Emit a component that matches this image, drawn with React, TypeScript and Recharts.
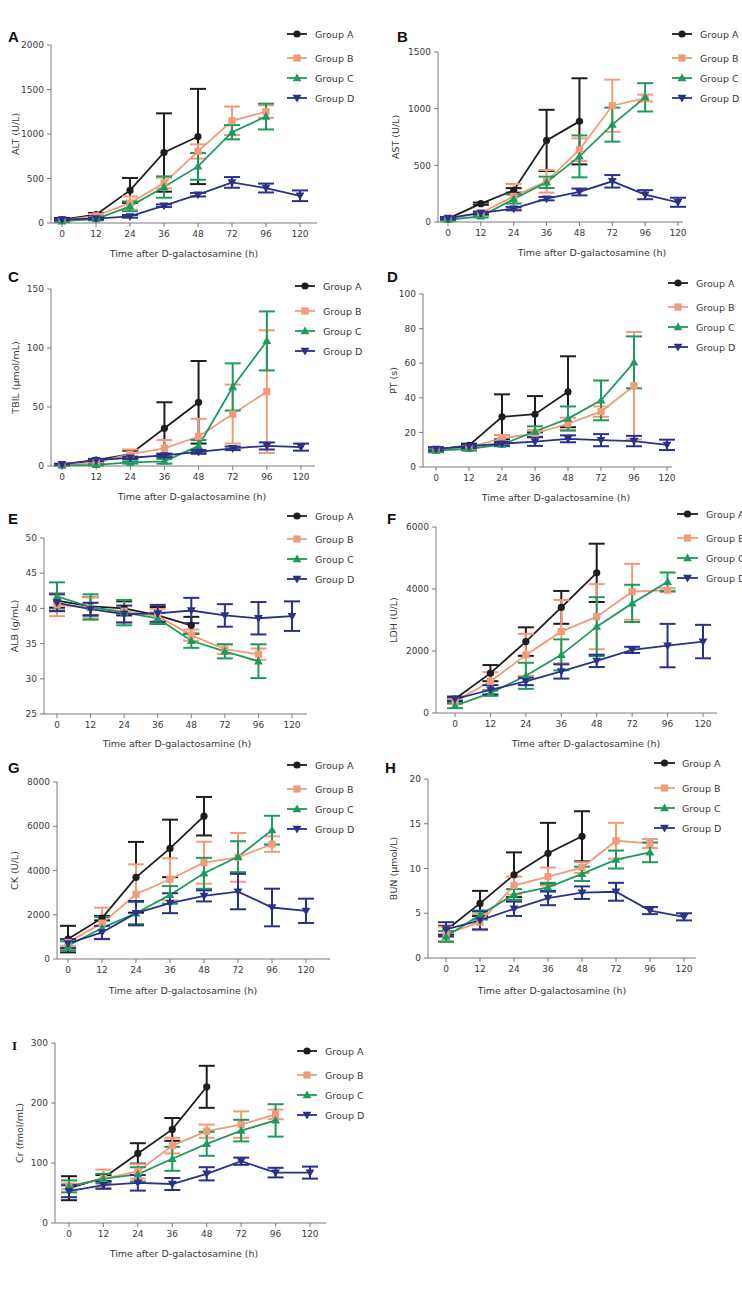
import React from 'react';
import { LineChart, Line, XAxis, YAxis, ErrorBar } from 'recharts';

const TIME_LABELS = ['0', '12', '24', '36', '48', '72', '96', '120'];
const GROUP_NAMES = ['Group A', 'Group B', 'Group C', 'Group D'];
const GROUP_COLORS = ['#1e1e1e', '#f29a7c', '#1e9a5c', '#2a3188'];
const GROUP_SHAPES = ['circle', 'square', 'up', 'down'];

// ALT (U/L)
const altA = [37, 93, 366, 792, 972];
const altAErr = [20, 20, 140, 440, 535];
const altB = [30, 80, 224, 449, 804, 1148, 1252];
const altBErr = [15, 20, 75, 60, 80, 160, 70];
const altC = [20, 45, 187, 404, 636, 1020, 1196];
const altCErr = [10, 15, 55, 120, 150, 80, 145];
const altD = [40, 50, 75, 194, 318, 456, 393, 306];
const altDErr = [10, 10, 15, 15, 20, 60, 50, 60];

// AST (U/L)
const astA = [30, 162, 279, 720, 888];
const astAErr = [10, 10, 20, 270, 380];
const astB = [30, 79, 226, 359, 638, 1026, 1094];
const astBErr = [10, 15, 110, 100, 100, 230, 30];
const astC = [20, 50, 203, 350, 579, 859, 1100];
const astCErr = [10, 10, 40, 50, 185, 150, 125];
const astD = [35, 80, 118, 206, 265, 359, 241, 174];
const astDErr = [10, 10, 15, 15, 30, 55, 40, 40];

// TBIL (umol/mL)
const tbilA = [1, 5, 10, 32, 54];
const tbilAErr = [0.5, 1, 3, 22, 35];
const tbilB = [1, 3, 10, 15, 25, 44, 63];
const tbilBErr = [0.5, 1, 4, 7, 15, 25, 52];
const tbilC = [0.5, 1, 3, 4, 17, 67, 106];
const tbilCErr = [0.3, 0.5, 1, 2, 5, 20, 25];
const tbilD = [1.5, 5, 7, 9, 12, 15, 17, 16];
const tbilDErr = [0.5, 1, 1, 1.5, 1.5, 1.5, 3, 3];

// PT (s)
const ptA = [10, 12.5, 29, 30.5, 43.5];
const ptAErr = [1, 1, 13, 10.5, 20.5];
const ptB = [10, 11.5, 16.5, 19.5, 25, 32, 47];
const ptBErr = [1, 1, 2, 2, 3.5, 3, 31];
const ptC = [9.5, 10.5, 13, 20.5, 28, 38.5, 60.5];
const ptCErr = [1, 1, 1, 3, 7, 11.5, 15];
const ptD = [10.5, 12, 13.5, 14.7, 16.3, 15.5, 15, 12.8];
const ptDErr = [1, 1, 1, 2.5, 2, 3.5, 3, 3];

// ALB (g/mL)
const albA = [41.1, 40.3, 40.0, 39.0, 37.6];
const albAErr = [1, 1.3, 1, 1.2, 1.2];
const albB = [40.5, 40.1, 39.6, 38.9, 36.2, 34.2, 33.5];
const albBErr = [1.6, 1.5, 1.6, 1, 0.8, 0.7, 0.8];
const albC = [41.7, 40.2, 39.4, 38.6, 35.4, 33.9, 32.5];
const albCErr = [2, 1.8, 1.8, 0.8, 1, 1, 2.4];
const albD = [40.8, 39.9, 39.2, 39.3, 39.7, 39.0, 38.6, 38.9];
const albDErr = [1.2, 0.9, 1.2, 1.2, 1.8, 1.6, 2.3, 2.1];

// LDH (U/L)
const ldhA = [450, 1286, 2304, 3407, 4521];
const ldhAErr = [80, 260, 460, 530, 940];
const ldhB = [375, 1018, 1875, 2625, 3107, 3911, 3964];
const ldhBErr = [80, 300, 680, 1020, 1050, 900, 60];
const ldhC = [236, 643, 1200, 1875, 2786, 3536, 4232];
const ldhCErr = [80, 90, 420, 500, 950, 600, 300];
const ldhD = [450, 750, 1018, 1340, 1682, 2036, 2175, 2304];
const ldhDErr = [60, 150, 120, 230, 200, 100, 700, 540];

// CK (U/L)
const ckA = [900, 1846, 3692, 4998, 6454];
const ckAErr = [600, 100, 1600, 1300, 870];
const ckB = [750, 1621, 2927, 3602, 4353, 4593, 5194];
const ckBErr = [150, 700, 1350, 950, 950, 1100, 350];
const ckC = [600, 1400, 2071, 2897, 3873, 4623, 5824];
const ckCErr = [200, 500, 500, 400, 700, 700, 650];
const ckD = [700, 1200, 2071, 2522, 2852, 3047, 2327, 2176];
const ckDErr = [200, 300, 550, 450, 250, 800, 850, 550];

// BUN (umol/L)
const bunA = [3.1, 6.1, 9.3, 11.7, 13.6];
const bunAErr = [0.5, 1.4, 2.5, 3.4, 2.8];
const bunB = [2.7, 4.0, 8.1, 9.1, 10.1, 13.1, 12.8];
const bunBErr = [0.8, 0.9, 1, 1, 0.6, 2, 0.5];
const bunC = [2.4, 4.8, 7.1, 7.9, 9.4, 11.0, 11.8];
const bunCErr = [0.6, 0.5, 0.6, 0.5, 0.8, 1.0, 1.1];
const bunD = [3.2, 4.2, 5.5, 6.7, 7.3, 7.4, 5.3, 4.6];
const bunDErr = [0.8, 1, 0.8, 0.8, 0.7, 1.0, 0.4, 0.4];

// Cr (fmol/mL)
const crA = [58, 75, 116, 156, 227];
const crAErr = [20, 5, 17, 19, 35];
const crB = [61, 74, 86, 129, 153, 164, 181];
const crBErr = [5, 15, 12, 13, 11, 22, 8];
const crC = [61, 74, 81, 107, 132, 154, 171];
const crCErr = [10, 8, 12, 20, 20, 18, 27];
const crD = [53, 63, 67, 65, 82, 103, 84, 84];
const crDErr = [10, 6, 13, 10, 11, 6, 8, 10];

type Panel = {
  letter: string;
  yLabel: string;
  series: number[][][];
  yDomain: [number, number];
  yTicks: number[];
  box: [number, number, number, number];
  plot: [number, number, number, number];
  t0: number;
  t120: number;
  letterPos: [number, number];
  yLabelX: number;
  title: [number, number];
  legend: { x0: number; x1: number; tx: number; rows: number[] };
};

const PANELS: Panel[] = [
  {
    letter: 'A', yLabel: 'ALT (U/L)',
    series: [[altA, altAErr], [altB, altBErr], [altC, altCErr], [altD, altDErr]],
    yDomain: [0, 2000], yTicks: [0, 500, 1000, 1500, 2000],
    box: [0, 0, 371, 265], plot: [51, 317, 45, 223], t0: 62, t120: 300,
    letterPos: [8, 42], yLabelX: 15, title: [184, 253],
    legend: { x0: 287, x1: 307, tx: 315, rows: [34, 58, 78, 98] },
  },
  {
    letter: 'B', yLabel: 'AST (U/L)',
    series: [[astA, astAErr], [astB, astBErr], [astC, astCErr], [astD, astDErr]],
    yDomain: [0, 1500], yTicks: [0, 500, 1000, 1500],
    box: [371, 0, 371, 265], plot: [438, 683, 52, 222], t0: 448, t120: 678,
    letterPos: [397, 42], yLabelX: 395, title: [592, 252],
    legend: { x0: 672, x1: 692, tx: 700, rows: [34, 58, 78, 98] },
  },
  {
    letter: 'C', yLabel: 'TBIL (\u03bcmol/mL)',
    series: [[tbilA, tbilAErr], [tbilB, tbilBErr], [tbilC, tbilCErr], [tbilD, tbilDErr]],
    yDomain: [0, 150], yTicks: [0, 50, 100, 150],
    box: [0, 265, 371, 240], plot: [51, 315, 289, 466], t0: 62, t120: 301,
    letterPos: [8, 282], yLabelX: 15, title: [192, 496],
    legend: { x0: 295, x1: 315, tx: 323, rows: [286, 311, 331, 351] },
  },
  {
    letter: 'D', yLabel: 'PT (s)',
    series: [[ptA, ptAErr], [ptB, ptBErr], [ptC, ptCErr], [ptD, ptDErr]],
    yDomain: [0, 100], yTicks: [0, 20, 40, 60, 80, 100],
    box: [371, 265, 371, 240], plot: [423, 672, 294, 467], t0: 436, t120: 667,
    letterPos: [387, 282], yLabelX: 393, title: [556, 497],
    legend: { x0: 668, x1: 688, tx: 696, rows: [283, 307, 327, 347] },
  },
  {
    letter: 'E', yLabel: 'ALB (g/mL)',
    series: [[albA, albAErr], [albB, albBErr], [albC, albCErr], [albD, albDErr]],
    yDomain: [25, 50], yTicks: [25, 30, 35, 40, 45, 50],
    box: [0, 505, 371, 240], plot: [44, 307, 538, 714], t0: 57, t120: 292,
    letterPos: [8, 524], yLabelX: 14, title: [177, 743],
    legend: { x0: 287, x1: 307, tx: 315, rows: [516, 539, 559, 579] },
  },
  {
    letter: 'F', yLabel: 'LDH (U/L)',
    series: [[ldhA, ldhAErr], [ldhB, ldhBErr], [ldhC, ldhCErr], [ldhD, ldhDErr]],
    yDomain: [0, 6000], yTicks: [0, 2000, 4000, 6000],
    box: [371, 505, 371, 240], plot: [436, 717, 527, 713], t0: 455, t120: 703,
    letterPos: [387, 524], yLabelX: 393, title: [586, 743],
    legend: { x0: 677, x1: 698, tx: 706, rows: [514, 538, 558, 578] },
  },
  {
    letter: 'G', yLabel: 'CK (U/L)',
    series: [[ckA, ckAErr], [ckB, ckBErr], [ckC, ckCErr], [ckD, ckDErr]],
    yDomain: [0, 8000], yTicks: [0, 2000, 4000, 6000, 8000],
    box: [0, 745, 371, 255], plot: [57, 330, 782, 959], t0: 68, t120: 306,
    letterPos: [8, 773], yLabelX: 14, title: [183, 990],
    legend: { x0: 287, x1: 307, tx: 315, rows: [765, 789, 809, 829] },
  },
  {
    letter: 'H', yLabel: 'BUN (\u03bcmol/L)',
    series: [[bunA, bunAErr], [bunB, bunBErr], [bunC, bunCErr], [bunD, bunDErr]],
    yDomain: [0, 20], yTicks: [0, 5, 10, 15, 20],
    box: [371, 745, 371, 255], plot: [428, 696, 779, 958], t0: 446, t120: 684,
    letterPos: [385, 773], yLabelX: 393, title: [552, 990],
    legend: { x0: 654, x1: 675, tx: 682, rows: [763, 788, 808, 828] },
  },
  {
    letter: 'I', yLabel: 'Cr (fmol/mL)',
    series: [[crA, crAErr], [crB, crBErr], [crC, crCErr], [crD, crDErr]],
    yDomain: [0, 300], yTicks: [0, 100, 200, 300],
    box: [0, 1000, 371, 270], plot: [55, 326, 1043, 1223], t0: 69, t120: 310,
    letterPos: [12, 1050], yLabelX: 19, title: [184, 1253],
    legend: { x0: 297, x1: 317, tx: 325, rows: [1051, 1075, 1095, 1115] },
  },
];

const FONT = '"DejaVu Sans", Verdana, sans-serif';
const AXIS_COLOR = '#7a7a7a';
const TEXT_COLOR = '#3a3a3a';
const YW = 40;
const XH = 25;

function Marker({ shape, cx, cy, color }: { shape: string; cx: number; cy: number; color: string }) {
  if (cx == null || cy == null || isNaN(cx) || isNaN(cy)) return null;
  if (shape === 'circle') return <circle cx={cx} cy={cy} r={3.6} fill={color} stroke="none" />;
  if (shape === 'square') return <rect x={cx - 3.6} y={cy - 3.6} width={7.2} height={7.2} fill={color} stroke="none" />;
  if (shape === 'up')
    return <polygon points={`${cx},${cy - 4.6} ${cx + 4.4},${cy + 3.2} ${cx - 4.4},${cy + 3.2}`} fill={color} stroke="none" />;
  return <polygon points={`${cx},${cy + 4.6} ${cx + 4.4},${cy - 3.2} ${cx - 4.4},${cy - 3.2}`} fill={color} stroke="none" />;
}

function PanelChart({ p }: { p: Panel }) {
  const [bx, by, bw, bh] = p.box;
  const [pl, pr, pt, pb] = p.plot;
  const s = (p.t120 - p.t0) / 7;
  const dmin = (pl - p.t0) / s;
  const dmax = (pr - p.t0) / s;
  const margin = {
    top: pt - by,
    bottom: by + bh - pb - XH,
    left: pl - bx - YW,
    right: bx + bw - pr,
  };
  const tickStyle = { fontSize: 9, fontFamily: FONT, fill: TEXT_COLOR };
  return (
    <div style={{ position: 'absolute', left: bx, top: by, width: bw, height: bh }}>
      <LineChart width={bw} height={bh} margin={margin}>
        <XAxis
          type="number"
          dataKey="x"
          domain={[dmin, dmax]}
          allowDataOverflow
          ticks={[0, 1, 2, 3, 4, 5, 6, 7]}
          tickFormatter={(v: number) => TIME_LABELS[v] ?? ''}
          height={XH}
          tickSize={4}
          tickMargin={4}
          stroke={AXIS_COLOR}
          tick={tickStyle}
          interval={0}
        />
        <YAxis
          type="number"
          domain={p.yDomain}
          ticks={p.yTicks}
          width={YW}
          tickSize={4}
          tickMargin={3}
          stroke={AXIS_COLOR}
          tick={tickStyle}
          interval={0}
        />
        {p.series.map(([vals, errs], gi) => {
          const data = vals.map((v, i) => ({ x: i, y: v, e: errs[i] }));
          const color = GROUP_COLORS[gi];
          const shape = GROUP_SHAPES[gi];
          return (
            <Line
              key={GROUP_NAMES[gi]}
              data={data}
              dataKey="y"
              name={GROUP_NAMES[gi]}
              stroke={color}
              strokeWidth={1.8}
              isAnimationActive={false}
              dot={(dp: any) => <Marker key={`d${gi}-${dp.index}`} shape={shape} cx={dp.cx} cy={dp.cy} color={color} />}
              activeDot={false}
            >
              <ErrorBar dataKey="e" width={8} stroke={color} strokeWidth={2} direction="y" />
            </Line>
          );
        })}
      </LineChart>
    </div>
  );
}

function Overlay() {
  return (
    <svg
      width={742}
      height={1305}
      style={{ position: 'absolute', left: 0, top: 0, pointerEvents: 'none' }}
    >
      {PANELS.map((p) => {
        const yc = (p.plot[2] + p.plot[3]) / 2;
        return (
          <g key={p.letter}>
            <text
              x={p.letterPos[0]}
              y={p.letterPos[1]}
              fontSize={p.letter === 'I' ? 13 : 15}
              fontWeight="bold"
              fontFamily={p.letter === 'I' ? '"Liberation Serif", serif' : '"Liberation Sans", Arial, sans-serif'}
              fill="#111"
            >
              {p.letter}
            </text>
            <text
              transform={`translate(${p.yLabelX}, ${yc}) rotate(-90)`}
              textAnchor="middle"
              dominantBaseline="central"
              fontSize={9.5}
              fontFamily={FONT}
              fill={TEXT_COLOR}
            >
              {p.yLabel}
            </text>
            <text
              x={p.title[0]}
              y={p.title[1]}
              textAnchor="middle"
              dominantBaseline="central"
              fontSize={9.5}
              fontFamily={FONT}
              fill={TEXT_COLOR}
            >
              Time after D-galactosamine (h)
            </text>
            {GROUP_NAMES.map((g, gi) => {
              const ry = p.legend.rows[gi];
              const mx = (p.legend.x0 + p.legend.x1) / 2;
              return (
                <g key={g}>
                  <line x1={p.legend.x0} x2={p.legend.x1} y1={ry} y2={ry} stroke={GROUP_COLORS[gi]} strokeWidth={1.8} />
                  <Marker shape={GROUP_SHAPES[gi]} cx={mx} cy={ry} color={GROUP_COLORS[gi]} />
                  <text
                    x={p.legend.tx}
                    y={ry}
                    dominantBaseline="central"
                    fontSize={9.5}
                    fontFamily={FONT}
                    fill={TEXT_COLOR}
                  >
                    {g}
                  </text>
                </g>
              );
            })}
          </g>
        );
      })}
    </svg>
  );
}

export default function App() {
  return (
    <div
      style={{
        position: 'absolute',
        left: 0,
        top: 0,
        width: 742,
        height: 1305,
        overflow: 'hidden',
        background: '#fff',
      }}
    >
      {PANELS.map((p) => (
        <PanelChart key={p.letter} p={p} />
      ))}
      <Overlay />
    </div>
  );
}
